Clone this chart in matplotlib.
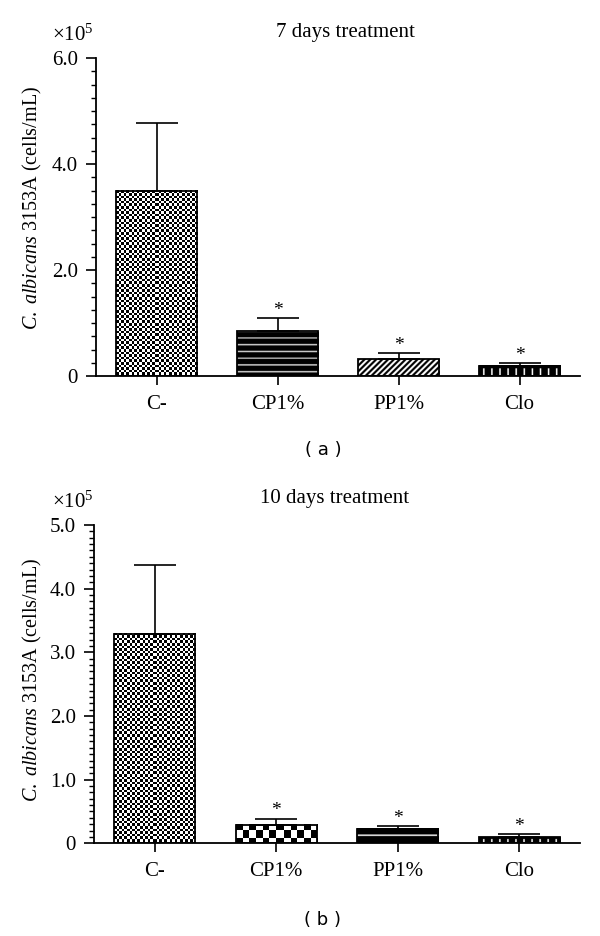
import numpy as np
import matplotlib
matplotlib.use('Agg')
import matplotlib.pyplot as plt
from matplotlib.ticker import FixedLocator, MultipleLocator, FuncFormatter

# Data (cells/mL, in units of 1e5)
categories = ['C-', 'CP1%', 'PP1%', 'Clo']
mean_7d = [3.50, 0.84, 0.32, 0.19]
err_7d = [1.28, 0.25, 0.11, 0.05]
mean_10d = [3.29, 0.29, 0.22, 0.094]
err_10d = [1.08, 0.096, 0.05, 0.046]
yticks_7d = [0, 2.0, 4.0, 6.0]
yticks_10d = [0, 1.0, 2.0, 3.0, 4.0, 5.0]

plt.rcParams['font.family'] = ['Liberation Serif', 'DejaVu Serif']
plt.rcParams['mathtext.fontset'] = 'custom'
plt.rcParams['mathtext.rm'] = 'Liberation Serif'
plt.rcParams['mathtext.it'] = 'Liberation Serif:italic'

W, H = 600, 936
fig = plt.figure(figsize=(6, 9.36), dpi=100)


# fill patterns, u/v in pixels from the bar's lower-left corner (1 = white)
def checker(c):
    return lambda u, v, w, h: ((np.floor(u / c) + np.floor((h - v) / c)) % 2)


def hlines(period, first, thick, col):
    return lambda u, v, w, h: np.where(((v - first + thick / 2) % period) < thick, col, 0.0)


def diag(period, black):
    return lambda u, v, w, h: np.where(((u - v) % period) < black, 0.0, 1.0)


def vticks(period, first, thick, top_band):
    def f(u, v, w, h):
        white = (((u - first) % period) < thick) & (v < h - top_band)
        return np.where(white, 1.0, 0.0)
    return f


def fill_bar(ax, bar, pattern, ss):
    x0, y0 = bar.get_x(), bar.get_y()
    w, h = bar.get_width(), bar.get_height()
    (px0, py0), (px1, py1) = ax.transData.transform([(x0, y0), (x0 + w, y0 + h)])
    wp, hp = px1 - px0, py1 - py0
    nx, ny = max(1, int(round(wp * ss))), max(1, int(round(hp * ss)))
    U, V = np.meshgrid((np.arange(nx) + 0.5) / ss, (np.arange(ny) + 0.5) / ss)
    img = pattern(U, V, wp, hp)
    ax.imshow(img, cmap='gray', vmin=0, vmax=1, origin='lower', aspect='auto',
              extent=(x0, x0 + w, y0, y0 + h),
              interpolation='nearest' if ss == 1 else 'antialiased', zorder=2)


def panel(rect, means, errs, yticks, minor, patterns, title, title_xy, ylab_xy, mult_xy, tag, tag_y):
    ax = fig.add_axes(rect)
    x = np.arange(len(categories))
    ax.set_xlim(-0.5, 3.5)
    ax.set_ylim(0, yticks[-1])
    bars = ax.bar(x, means, width=0.67, facecolor='none', edgecolor='black',
                  linewidth=1.3, zorder=3)
    for b, (p, ss) in zip(bars, patterns):
        fill_bar(ax, b, p, ss)
    ax.errorbar(x, means, yerr=[np.zeros(len(means)), errs], fmt='none', ecolor='black',
                elinewidth=1.2, capsize=14.8, capthick=1.2, zorder=4)
    for xi, m, e in list(zip(x, means, errs))[1:]:
        ax.annotate('*', xy=(xi, m + e), xytext=(0, 2.5), textcoords='offset points',
                    ha='center', va='baseline', fontsize=14)
    ax.set_xlim(-0.5, 3.5)
    ax.set_ylim(0, yticks[-1])

    for s in ['top', 'right']:
        ax.spines[s].set_visible(False)
    for s in ['left', 'bottom']:
        ax.spines[s].set_linewidth(1.3)
    ax.set_xticks(x)
    ax.set_xticklabels(categories)
    ax.yaxis.set_major_locator(FixedLocator(yticks))
    ax.yaxis.set_minor_locator(MultipleLocator(minor))
    ax.yaxis.set_major_formatter(FuncFormatter(lambda v, p: '0' if v == 0 else f'{v:.1f}'))
    ax.tick_params(axis='both', which='major', labelsize=15, width=1.2)
    ax.tick_params(axis='x', length=6.5, pad=7)
    ax.tick_params(axis='y', which='major', length=7, pad=6)
    ax.tick_params(axis='y', which='minor', length=3.5, width=1.0)

    fig.text(title_xy[0] / W, 1 - title_xy[1] / H, title, ha='center', va='center', fontsize=15)
    fig.text(ylab_xy[0] / W, 1 - ylab_xy[1] / H, r'$\mathit{C.\ albicans}$ 3153A (cells/mL)',
             rotation=90, ha='center', va='center', fontsize=14.5)
    fig.text(mult_xy[0] / W, 1 - mult_xy[1] / H, r'$\times10^5$', ha='left', va='center', fontsize=15)
    fig.text(323 / W, 1 - tag_y / H, tag, ha='center', va='center', fontsize=13,
             family='DejaVu Sans')
    return ax


patterns_7d = [(checker(2.6), 1), (hlines(6.67, 4.3, 1.4, 0.8), 4), (diag(5.8, 3.0), 4),
               (vticks(8.0, 4.0, 1.6, 3.0), 4)]
patterns_10d = [(checker(2.6), 1), (checker(6.7), 1), (hlines(13.0, 7.3, 1.5, 0.9), 4),
                (vticks(8.0, 4.0, 1.6, 2.0), 4)]

panel([96 / W, 1 - 376 / H, 484 / W, 318 / H], mean_7d, err_7d, yticks_7d, 0.25,
      patterns_7d, '7 days treatment', (345, 32), (32, 208), (52, 35), '( a )', 450)
panel([94 / W, 1 - 843.3 / H, 486 / W, 318.3 / H], mean_10d, err_10d, yticks_10d, 0.1,
      patterns_10d, '10 days treatment', (335, 498), (32, 680), (52, 502), '( b )', 920)

fig.savefig('out.png', dpi=100)
